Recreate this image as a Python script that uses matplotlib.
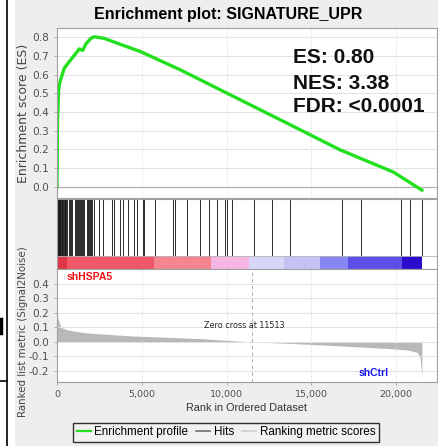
import numpy as np
import matplotlib.pyplot as plt
from matplotlib.lines import Line2D
from matplotlib.patches import Rectangle

W, H = 439, 446  # pixel size of the picture

# running enrichment score
es_rank = [0, 30, 90, 135, 235, 430, 723, 1118, 1312, 1512, 1706, 2000, 2194,
           2765, 3570, 4940, 7294, 9647, 13570, 16706, 19823, 21510]
es_value = [0.0, 0.35, 0.507, 0.545, 0.58, 0.635, 0.67, 0.715, 0.738, 0.73, 0.765,
            0.795, 0.803, 0.795, 0.768, 0.723, 0.625, 0.518, 0.34, 0.197, 0.079, -0.018]

# positions of the gene set members in the ranked list
hit_ranks = [59, 88, 118, 147, 176, 206, 235, 294, 324, 353, 412, 471, 500, 529, 588,
             706, 765, 824, 882, 1059, 1118, 1176, 1235, 1294, 1353, 1412, 1471, 1529,
             1588, 1765, 1824, 1882, 1941, 2000, 2059, 2176, 2470, 2706, 3235, 3353,
             3706, 3882, 4176, 4529, 4706, 5059, 5118, 5765, 6824, 6941, 7647, 8412,
             8941, 9412, 9882, 10000, 10294, 11588, 12647, 13706, 16824, 17941, 20294,
             20824, 21529]

# ranked list metric (Signal2Noise)
metric_rank = [0, 40, 235, 630, 1588, 2588, 4529, 6530, 8470, 9650, 11513, 13590,
               15530, 17470, 19470, 20650, 21240, 21410, 21510]
metric_value = [0.22, 0.165, 0.10, 0.083, 0.064, 0.055, 0.041, 0.032, 0.023, 0.014, 0.0,
                -0.009, -0.02, -0.032, -0.045, -0.055, -0.072, -0.11, -0.24]

# red -> blue band under the hits
band_edges = [0, 588, 5706, 9059, 11294, 13353, 15529, 17176, 20353, 21530]
band_colors = ['#de3646', '#f05868', '#f5868f', '#f5b6e4', '#d8d6f7', '#c4c2f5',
               '#8686f0', '#5c4ee6', '#2c0ccc']

zero_cross = 11513
xmax = 22400

fig = plt.figure(figsize=(W / 100, H / 100), dpi=100, facecolor='white')
fig.patches.append(Rectangle((15 / W, 0), 1, 1, transform=fig.transFigure,
                             facecolor='#eeeeee', edgecolor='none', zorder=-10))
# bits of the neighbouring panel on the left
fig.add_artist(Line2D([7 / W, 7 / W], [0, 1], color='black', lw=1.2))
fig.add_artist(Line2D([0, 7 / W], [1 - 381 / H, 1 - 381 / H], color='black', lw=1.2))
fig.add_artist(Line2D([1 / W, 1 / W], [1 - 333 / H, 1 - 319 / H], color='black', lw=2.5))

def px_axes(left, top, right, bottom):
    return fig.add_axes([left / W, 1 - bottom / H, (right - left) / W, (bottom - top) / H])

ax1 = px_axes(57, 28, 437, 198)
ax2 = px_axes(57, 199, 437, 269)
ax3 = px_axes(57, 269, 437, 382)

spine_col = '#a0a0a0'
grid_col = '#e2e2e2'
tick_col = '#505050'

for ax in (ax1, ax2, ax3):
    ax.set_facecolor('white')
    ax.set_xlim(0, xmax)
    for s in ax.spines.values():
        s.set_color(spine_col)
        s.set_linewidth(0.8)
    ax.tick_params(colors=spine_col, labelcolor=tick_col, length=2, width=0.6,
                   labelsize=7.6)
    ax.set_xticks([0, 5000, 10000, 15000, 20000])

# enrichment profile
ax1.set_ylim(-0.06, 0.85)
ax1.set_yticks(np.arange(0, 0.81, 0.1))
ax1.set_yticklabels(['%.1f' % v for v in np.arange(0, 0.81, 0.1)])
ax1.tick_params(axis='x', length=0, labelbottom=False)
ax1.grid(True, color=grid_col, lw=0.7)
ax1.grid(True, axis='x', color='#d8d8d8', lw=0.7, ls=':')
ax1.axhline(0, color='#b0b0b0', lw=0.9)
ax1.plot(es_rank, es_value, color='#22e01e', lw=2.4, solid_joinstyle='round')
ax1.set_ylabel('Enrichment score (ES)', fontsize=9, color='#444444')
ax1.yaxis.set_label_coords(-0.072, 0.5)

ax1.text(293 / W, 1 - 63 / H, 'ES: 0.80', transform=fig.transFigure,
         fontsize=15, fontweight='bold', family='Liberation Sans', color='#111111')
ax1.text(293 / W, 1 - 89 / H, 'NES: 3.38', transform=fig.transFigure,
         fontsize=15, fontweight='bold', family='Liberation Sans', color='#111111')
ax1.text(293 / W, 1 - 112 / H, 'FDR: <0.0001', transform=fig.transFigure,
         fontsize=15, fontweight='bold', family='Liberation Sans', color='#111111')

# hits and colour band
ax2.set_ylim(0, 1)
ax2.set_yticks([])
ax2.tick_params(axis='x', length=0, labelbottom=False)
ax2.vlines(hit_ranks, 0.19, 1, color='#1a1a1a', lw=0.65)
ax2.bar(band_edges[:-1], 0.19, width=np.diff(band_edges), bottom=0, align='edge',
        color=band_colors, edgecolor='none')
ax2.axhline(0.19, color='#b8b8b8', lw=0.6)

# ranked list metric
ax3.set_ylim(-0.276, 0.503)
yt = [-0.2, -0.1, 0.0, 0.1, 0.2, 0.3, 0.4]
ax3.set_yticks(yt)
ax3.set_yticklabels(['%.1f' % v for v in yt])
ax3.set_xticklabels(['0', '5,000', '10,000', '15,000', '20,000'], fontsize=6.8)
ax3.grid(True, color=grid_col, lw=0.7)
ax3.grid(True, axis='x', color='#d8d8d8', lw=0.7, ls=':')
ax3.fill_between(metric_rank, 0, metric_value, color='#b8b8b8', lw=0)
ax3.axvline(zero_cross, color='#b0b0b0', lw=0.8, ls=(0, (3, 3)))
ax3.text(244 / W, 1 - 326 / H, 'Zero cross at %d' % zero_cross, transform=fig.transFigure,
         fontsize=5.8, color='#222222', ha='center', va='center')
ax3.text(67 / W, 1 - 277 / H, 'shHSPA5', transform=fig.transFigure, fontsize=7.5,
         fontweight='bold', family='Liberation Sans', color='#ee1111', va='center')
ax3.text(359 / W, 1 - 373 / H, 'shCtrl', transform=fig.transFigure, fontsize=7.5,
         fontweight='bold', family='Liberation Sans', color='#1515ee', va='center')
ax3.set_ylabel('Ranked list metric (Signal2Noise)', fontsize=7.4, color='#444444')
ax3.yaxis.set_label_coords(-0.075, 0.45)
ax3.set_xlabel('Rank in Ordered Dataset', fontsize=7.8, family='Liberation Sans',
               color='#333333', labelpad=3)

fig.suptitle('Enrichment plot: SIGNATURE_UPR', x=228 / W, y=1 - 14 / H, va='center',
             fontsize=11.5, fontweight='bold', family='Liberation Sans')

handles = [Line2D([], [], color='#22e01e', lw=1.6),
           Line2D([], [], color='#707070', lw=1.2),
           Line2D([], [], color='#d0d0d0', lw=1.2)]
leg = fig.legend(handles, ['Enrichment profile', 'Hits', 'Ranking metric scores'],
                 loc='center', bbox_to_anchor=(226 / W, 1 - 432 / H), ncol=3,
                 prop={'family': 'Liberation Sans', 'size': 8.4}, frameon=True,
                 fancybox=False, handlelength=1.2, handletextpad=0.3,
                 columnspacing=0.7, borderpad=0.3, facecolor='#f2f2f2')
leg.get_frame().set_edgecolor('black')
leg.get_frame().set_linewidth(1.0)

fig.savefig('out.png', dpi=100, facecolor=fig.get_facecolor())
